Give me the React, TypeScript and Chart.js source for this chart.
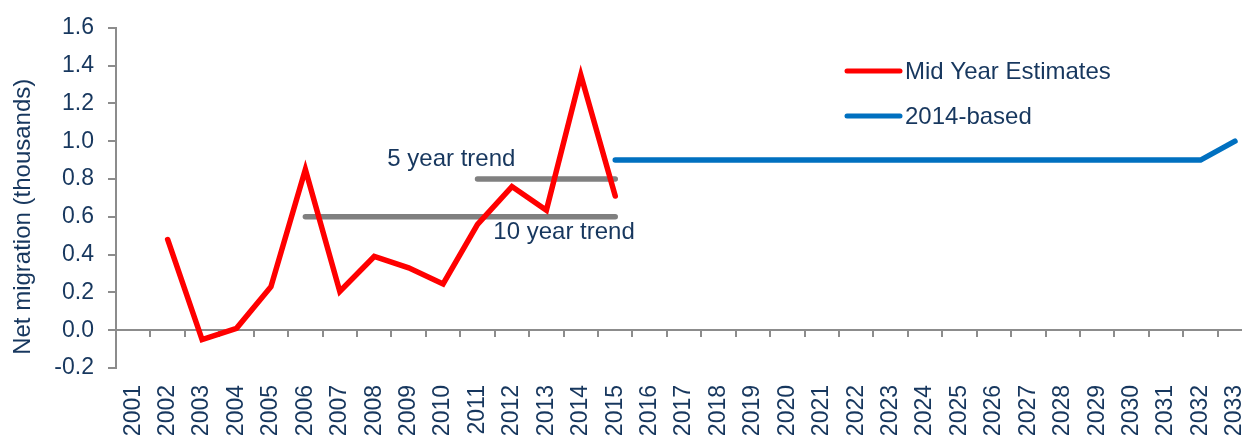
import React, { useEffect, useRef } from "react";
import { Chart, registerables } from "chart.js";

Chart.register(...registerables);

const years = [
  "2001", "2002", "2003", "2004", "2005", "2006", "2007", "2008", "2009", "2010",
  "2011", "2012", "2013", "2014", "2015", "2016", "2017", "2018", "2019", "2020",
  "2021", "2022", "2023", "2024", "2025", "2026", "2027", "2028", "2029", "2030",
  "2031", "2032", "2033",
];

const midYearEstimates = [
  null, 0.48, -0.05, 0.01, 0.23, 0.85, 0.205, 0.39, 0.33, 0.245,
  0.56, 0.76, 0.635, 1.35, 0.71, null, null, null, null, null,
  null, null, null, null, null, null, null, null, null, null,
  null, null, null,
];

const projection2014 = [
  null, null, null, null, null, null, null, null, null, null,
  null, null, null, null, 0.9, 0.9, 0.9, 0.9, 0.9, 0.9,
  0.9, 0.9, 0.9, 0.9, 0.9, 0.9, 0.9, 0.9, 0.9, 0.9,
  0.9, 0.9, 1.0,
];

const tenYearTrend = [
  null, null, null, null, null, 0.6, 0.6, 0.6, 0.6, 0.6,
  0.6, 0.6, 0.6, 0.6, 0.6, null, null, null, null, null,
  null, null, null, null, null, null, null, null, null, null,
  null, null, null,
];

const fiveYearTrend = [
  null, null, null, null, null, null, null, null, null, null,
  0.8, 0.8, 0.8, 0.8, 0.8, null, null, null, null, null,
  null, null, null, null, null, null, null, null, null, null,
  null, null, null,
];

const yTicks = [-0.2, 0.0, 0.2, 0.4, 0.6, 0.8, 1.0, 1.2, 1.4, 1.6];

const seriesNames = ["Mid Year Estimates", "2014-based", "10 year trend", "5 year trend"];
const axisTitle = "Net migration (thousands)";

const TEXT = "#17375E";
const GREY = "#8C8C8C";
const TREND = "#808080";
const RED = "#FF0000";
const BLUE = "#0070C0";
const FONT = '"Liberation Sans", Arial, sans-serif';

const overlayPlugin = {
  id: "overlay",
  afterDraw(chart: any) {
    const ctx = chart.ctx;
    const xs = chart.scales.x;
    const ys = chart.scales.y;
    ctx.save();
    // Axis title
    ctx.fillStyle = TEXT;
    ctx.font = `24px ${FONT}`;
    ctx.textAlign = "center";
    ctx.textBaseline = "middle";
    ctx.translate(23, ys.getPixelForValue(0.6));
    ctx.rotate(-Math.PI / 2);
    ctx.fillText(axisTitle, 0, 0);
    ctx.restore();

    // Trend labels
    ctx.save();
    ctx.fillStyle = TEXT;
    ctx.font = `24px ${FONT}`;
    ctx.textBaseline = "middle";
    ctx.textAlign = "right";
    ctx.fillText(seriesNames[3], xs.getPixelForValue(11.1), ys.getPixelForValue(0.905));
    ctx.textAlign = "left";
    ctx.fillText(seriesNames[2], xs.getPixelForValue(10.46), ys.getPixelForValue(0.515));
    ctx.restore();

    // Legend
    const items = [0, 1];
    const lx0 = 847;
    const lx1 = 900;
    const rows = [71, 116];
    ctx.save();
    items.forEach((di, i) => {
      const ds = chart.data.datasets[di];
      ctx.strokeStyle = ds.borderColor;
      ctx.lineWidth = 5;
      ctx.lineCap = "round";
      ctx.beginPath();
      ctx.moveTo(lx0, rows[i]);
      ctx.lineTo(lx1, rows[i]);
      ctx.stroke();
      ctx.fillStyle = TEXT;
      ctx.font = `24px ${FONT}`;
      ctx.textAlign = "left";
      ctx.textBaseline = "middle";
      ctx.fillText(ds.label, 905, rows[i] + 1);
    });
    ctx.restore();
  },
};

export default function App() {
  const ref = useRef<HTMLCanvasElement | null>(null);

  useEffect(() => {
    if (!ref.current) return;
    const lineDs = (label: string, data: any[], color: string) => ({
      label,
      data,
      borderColor: color,
      backgroundColor: color,
      borderWidth: 5.5,
      pointRadius: 0,
      pointHoverRadius: 0,
      tension: 0,
      fill: false,
      spanGaps: false,
      borderCapStyle: "round" as const,
      borderJoinStyle: "miter" as const,
      xAxisID: "x",
      yAxisID: "y",
    });
    const chart = new Chart(ref.current, {
      type: "line",
      data: {
        labels: years,
        datasets: [
          lineDs(seriesNames[0], midYearEstimates, RED),
          lineDs(seriesNames[1], projection2014, BLUE),
          lineDs(seriesNames[2], tenYearTrend, TREND),
          lineDs(seriesNames[3], fiveYearTrend, TREND),
        ],
      },
      options: {
        responsive: false,
        animation: false,
        devicePixelRatio: 1,
        layout: { padding: { top: 25, right: 27, bottom: 0, left: 0 } },
        plugins: {
          legend: { display: false },
          tooltip: { enabled: false },
        },
        scales: {
          x: {
            type: "category",
            offset: true,
            grid: { display: false, drawTicks: false },
            border: { display: false },
            ticks: {
              autoSkip: false,
              maxRotation: 90,
              minRotation: 90,
              padding: 17,
              color: TEXT,
              font: { size: 23, family: FONT },
            },
            afterFit: (s: any) => {
              s.height = 67;
            },
          },
          x2: {
            type: "category",
            axis: "x",
            labels: years,
            position: { y: 0 },
            offset: true,
            grid: {
              offset: true,
              drawOnChartArea: false,
              drawTicks: true,
              tickLength: 6,
              color: GREY,
              lineWidth: 2,
            },
            border: { display: true, color: GREY, width: 2 },
            ticks: { display: false },
          },
          y: {
            type: "linear",
            min: yTicks[0],
            max: yTicks[yTicks.length - 1],
            afterBuildTicks: (s: any) => {
              s.ticks = yTicks.map((v) => ({ value: v }));
            },
            ticks: {
              padding: 14,
              color: TEXT,
              font: { size: 23, family: FONT },
              callback: (v: any) => Number(v).toFixed(1),
            },
            grid: {
              drawOnChartArea: false,
              drawTicks: true,
              tickLength: 8,
              color: GREY,
              lineWidth: 2,
            },
            border: { display: true, color: GREY, width: 2 },
            afterFit: (s: any) => {
              s.width = 116;
            },
          },
        },
      } as any,
      plugins: [overlayPlugin],
    });
    return () => chart.destroy();
  }, []);

  return (
    <div
      style={{
        position: "fixed",
        left: 0,
        top: 0,
        width: 1242,
        height: 435,
        overflow: "hidden",
        background: "#ffffff",
      }}
    >
      <canvas
        ref={ref}
        width={1280}
        height={435}
        style={{ display: "block", width: 1280, height: 435 }}
      />
    </div>
  );
}
